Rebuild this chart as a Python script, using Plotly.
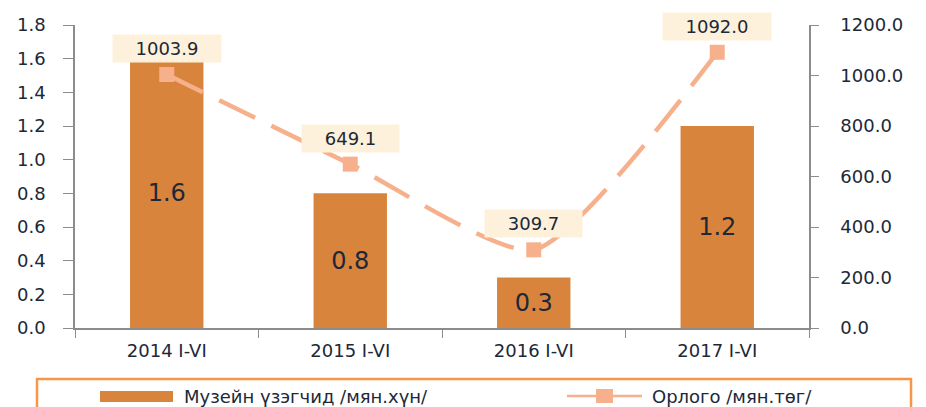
import plotly.graph_objects as go

# Museum visitors (thousand people) and revenue (million MNT), first half of each year
periods = ["2014 I-VI", "2015 I-VI", "2016 I-VI", "2017 I-VI"]
visitors = [1.6, 0.8, 0.3, 1.2]
revenue = [1003.9, 649.1, 309.7, 1092.0]
visitors_name = "Музейн үзэгчид /мян.хүн/"
revenue_name = "Орлого /мян.төг/"

bar_color = "#d9843d"
line_color = "#f7b08c"
frame_color = "#f79646"
axis_color = "#8c8c8c"
text_color = "#202838"
font_family = "DejaVu Sans, Arial, sans-serif"

# plot-area geometry in pixels (used to place the hand-drawn legend)
W, H = 926, 407
L, R, T, B = 75, 117, 25, 79
pw, ph = W - L - R, H - T - B


def px_x(x):
    return (x - L) / pw


def px_y(y):
    return (H - B - y) / ph


fig = go.Figure()

fig.add_trace(go.Bar(
    x=periods, y=visitors,
    name=visitors_name,
    marker=dict(color=bar_color, line=dict(width=0)),
    width=0.4,
    texttemplate="%{y:.1f}",
    textposition="inside",
    insidetextanchor="middle",
    textfont=dict(size=24, color=text_color, family=font_family),
    cliponaxis=False,
))

fig.add_trace(go.Scatter(
    x=periods, y=revenue, yaxis="y2",
    name=revenue_name,
    mode="lines+markers",
    line=dict(color=line_color, width=4.5, dash="40px,18px", shape="spline", smoothing=0.6),
    marker=dict(symbol="square", size=15, color=line_color),
    cliponaxis=False,
))

# value boxes above each revenue point
for p, v in zip(periods, revenue):
    label = f"{v:.1f}"
    fig.add_annotation(
        x=p, y=v, yref="y2", text=label, showarrow=False,
        yshift=26, bgcolor="#fdf1db", borderpad=0,
        width=11 * len(label) + 42, height=27,
        font=dict(size=18, color=text_color, family=font_family),
    )

# legend: frame, swatches and labels
fig.add_shape(type="rect", xref="paper", yref="paper",
              x0=px_x(37), x1=px_x(911), y0=px_y(430), y1=px_y(379),
              line=dict(color=frame_color, width=2.5), fillcolor="rgba(0,0,0,0)")
fig.add_shape(type="rect", xref="paper", yref="paper",
              x0=px_x(100), x1=px_x(173), y0=px_y(402), y1=px_y(391),
              line=dict(width=0), fillcolor=bar_color)
fig.add_shape(type="line", xref="paper", yref="paper",
              x0=px_x(567), x1=px_x(642), y0=px_y(396), y1=px_y(396),
              line=dict(color=line_color, width=2.5))
fig.add_shape(type="rect", xref="paper", yref="paper",
              x0=px_x(596), x1=px_x(613), y0=px_y(403), y1=px_y(389),
              line=dict(width=0), fillcolor=line_color)
for x0, name in [(182, visitors_name), (650, revenue_name)]:
    fig.add_annotation(xref="paper", yref="paper", x=px_x(x0), y=px_y(396),
                       xanchor="left", yanchor="middle", showarrow=False,
                       text=name, font=dict(size=18, color=text_color, family=font_family))

left_range = [0, 1.8]

fig.update_layout(
    width=W, height=H,
    margin=dict(l=L, r=R, t=T, b=B, autoexpand=False),
    plot_bgcolor="white", paper_bgcolor="white",
    font=dict(family=font_family, size=18, color=text_color),
    showlegend=False,
    xaxis=dict(
        showline=True, linecolor=axis_color, linewidth=1.5,
        ticks="outside", ticklen=8, tickcolor=axis_color,
        tickson="boundaries", showgrid=False,
        tickfont=dict(size=18, color=text_color),
        ticklabelstandoff=6,
    ),
    yaxis=dict(
        range=left_range, dtick=0.2, tickformat=".1f",
        showline=True, linecolor=axis_color, linewidth=1.5,
        ticks="outside", ticklen=10, tickcolor=axis_color,
        showgrid=False, zeroline=False,
        tickfont=dict(size=18, color=text_color),
        ticklabelstandoff=14,
    ),
    # inner half of the left axis' crossing tick marks
    yaxis3=dict(
        range=left_range, dtick=0.2, overlaying="y", side="left",
        showline=False, ticks="inside", ticklen=10, tickcolor=axis_color,
        showticklabels=False, showgrid=False, zeroline=False,
    ),
    yaxis2=dict(
        range=[0, 1200], dtick=200, tickformat=".1f",
        overlaying="y", side="right",
        showline=True, linecolor=axis_color, linewidth=1.5,
        ticks="outside", ticklen=8, tickcolor=axis_color,
        showgrid=False, zeroline=False,
        tickfont=dict(size=18, color=text_color),
        ticklabelstandoff=18,
    ),
)

fig.write_html("out.html")
